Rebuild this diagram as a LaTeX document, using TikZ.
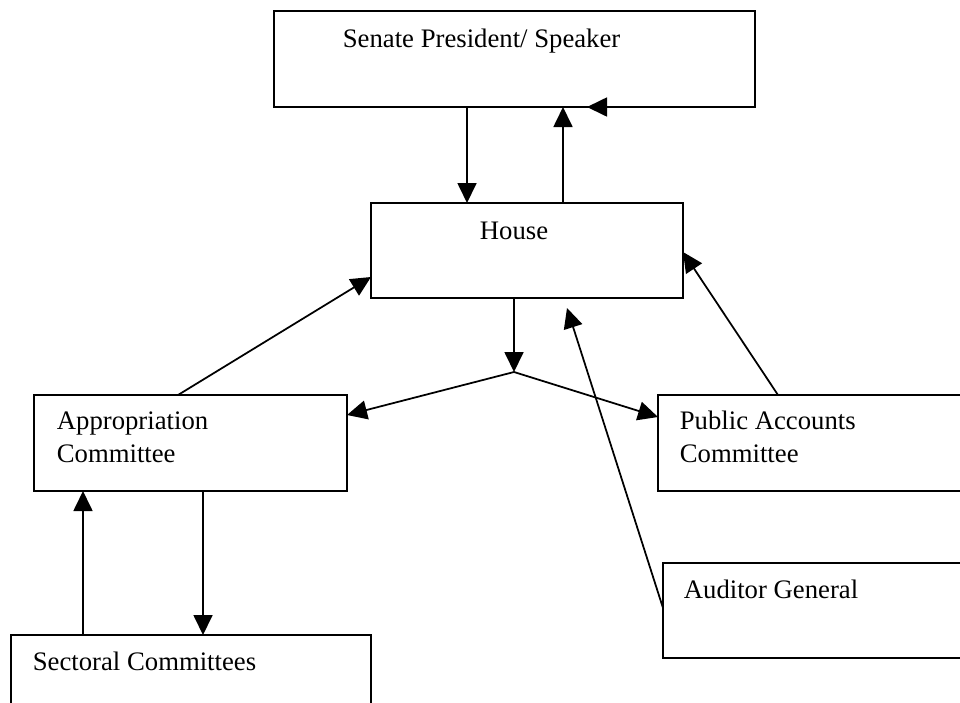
\documentclass[tikz,border=0pt]{standalone}
\usepackage{fontspec}
\setmainfont{Liberation Serif}
\usetikzlibrary{arrows.meta}
\begin{document}
\begin{tikzpicture}[x=0.2mm, y=-0.2mm, line width=0.35mm,
	>={Triangle[length=4mm, width=3.8mm]},
	box/.style={draw, inner sep=0pt, outer sep=0pt, anchor=north west},
	lbl/.style={anchor=base west, inner sep=0pt, align=left,
		font=\fontsize{15.2}{18.4}\selectfont},
	arr/.style={->}]
	
	% --- khung hinh ---
	\clip (0,0) rectangle (960,702);
	\fill[white] (0,0) rectangle (960,702);
	
	% --- cac hop ---
	\node[box, minimum width=96.2mm, minimum height=19.2mm] (sen) at (274,11) {};
	\node[box, minimum width=62.4mm, minimum height=19mm] (house) at (371,203) {};
	\node[box, minimum width=62.6mm, minimum height=19.2mm] (app) at (34,395) {};
	\node[box, minimum width=64mm, minimum height=19.2mm] (pac) at (658,395) {};
	\node[box, minimum width=64mm, minimum height=19mm] (aud) at (663,563) {};
	\node[box, minimum width=72mm, minimum height=19.2mm] (sec) at (11,635) {};
	
	% --- chu trong hop (hai dong: dat theo dong duoi) ---
	\node[lbl] (senT) at (342,47) {Senate President/ Speaker};
	\node[lbl] (houseT) at (479,239) {House};
	\node[lbl] (appT) at (56,462) {Appropriation\\Committee};
	\node[lbl] (pacT) at (679,462) {Public Accounts\\Committee};
	\node[lbl] (audT) at (683,598) {Auditor General};
	\node[lbl] (secT) at (32,670) {Sectoral Committees};
	
	% diem re nhanh duoi House
	\coordinate (split) at (514,372);
	
	% --- cac mui ten ---
	\draw[arr] ([xshift=-9.5mm]sen.south) coordinate (a) -- (a |- house.north);
	\draw[arr] ([xshift=7.2mm]house.north) coordinate (b) -- (b |- sen.south);
	\draw[arr] (sen.south east) -- ([xshift=14.5mm]sen.south);
	
	\draw[arr] (split |- house.south) -- (split);
	\draw[arr] (split) -- ([yshift=5.6mm]app.east);
	\draw[arr] (split) -- ([yshift=5.2mm]pac.west);
	
	\draw[arr] ([xshift=-2.5mm]app.north) -- ([yshift=-5.3mm]house.west);
	\draw[arr] ([xshift=-8mm]pac.north) -- ([yshift=-0.3mm]house.east);
	\draw[arr] ([yshift=0.5mm]aud.west) -- ([shift={(8mm,-2mm)}]house.south);
	
	\draw[arr] ([xshift=2.5mm]app.south) coordinate (d) -- (d |- sec.north);
	\draw[arr] ([xshift=-21.6mm]sec.north) coordinate (e) -- (e |- app.south);
	
\end{tikzpicture}
\end{document}
